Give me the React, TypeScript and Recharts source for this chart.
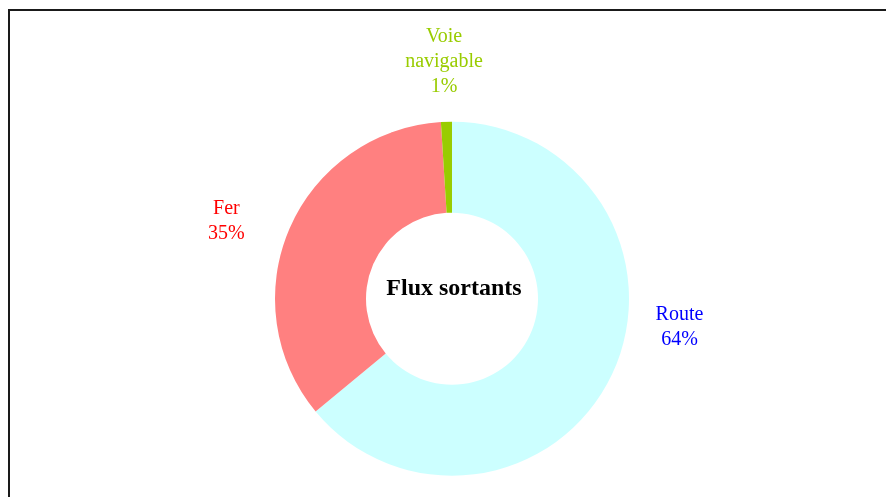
import { PieChart, Pie, Cell, Label } from 'recharts'

// Répartition modale des flux sortants (%)
const modes = ['Route', 'Fer', 'Voie navigable']
const shares = [64, 35, 1]
const title = 'Flux sortants'

const sliceColors = ['#CCFFFF', '#FF8080', '#99CC00']
const textColors = ['#0000FF', '#FF0000', '#99CC00']

// label placement tweaks, Excel-style (degrees shift / gap beyond the ring)
const labelShift = [18.6, 4.1, 0.1]
const labelGap = [52, 62, 62]

const data = modes.map((name, i) => ({ name, value: shares[i] }))

const RADIAN = Math.PI / 180
const FONT = '"Liberation Serif", "Times New Roman", serif'
const PIE_CX = 444
const PIE_CY = 290.7

const renderLabel = (props: any) => {
  const { cx, cy, midAngle, outerRadius, index, name, value } = props
  const angle = (midAngle + labelShift[index]) * RADIAN
  const r = outerRadius + labelGap[index]
  const x = cx + r * Math.cos(-angle)
  const y = cy + r * Math.sin(-angle)
  const lines = [...String(name).split(' '), `${value}%`]
  // vertically centre the block of lines on (x, y)
  const firstY = y - (25 * (lines.length - 1) - 14) / 2
  return (
    <text
      x={x}
      y={firstY}
      textAnchor="middle"
      fill={textColors[index]}
      fontFamily={FONT}
      fontSize={20}
    >
      {lines.map((line, i) => (
        <tspan key={i} x={x} dy={i === 0 ? 0 : 25}>
          {line}
        </tspan>
      ))}
    </text>
  )
}

export default function App() {
  return (
    <div style={{ position: 'relative', width: 878, height: 489 }}>
      {/* chart-area frame: only top and left edges show in the crop */}
      <div
        style={{
          position: 'fixed',
          top: 9,
          left: 8,
          width: 878,
          height: 488,
          borderTop: '2px solid #1a1a1a',
          borderLeft: '2px solid #1a1a1a',
          boxSizing: 'border-box',
        }}
      />
      <PieChart
        width={878}
        height={489}
        margin={{ top: 0, right: 0, bottom: 0, left: 0 }}
        style={{ position: 'absolute', top: 0, left: 0 }}
      >
        <Pie
          data={data}
          dataKey="value"
          nameKey="name"
          cx={PIE_CX}
          cy={PIE_CY}
          innerRadius={86}
          outerRadius={177}
          startAngle={90}
          endAngle={-270}
          stroke="none"
          label={renderLabel}
          labelLine={false}
          isAnimationActive={false}
        >
          {data.map((entry, i) => (
            <Cell key={entry.name} fill={sliceColors[i]} />
          ))}
          <Label
            position="center"
            content={() => (
              <text
                x={PIE_CX + 2}
                y={PIE_CY - 4}
                textAnchor="middle"
                fontFamily={FONT}
                fontWeight="bold"
                fontSize={24}
                fill="#000"
              >
                {title}
              </text>
            )}
          />
        </Pie>
      </PieChart>
    </div>
  )
}
